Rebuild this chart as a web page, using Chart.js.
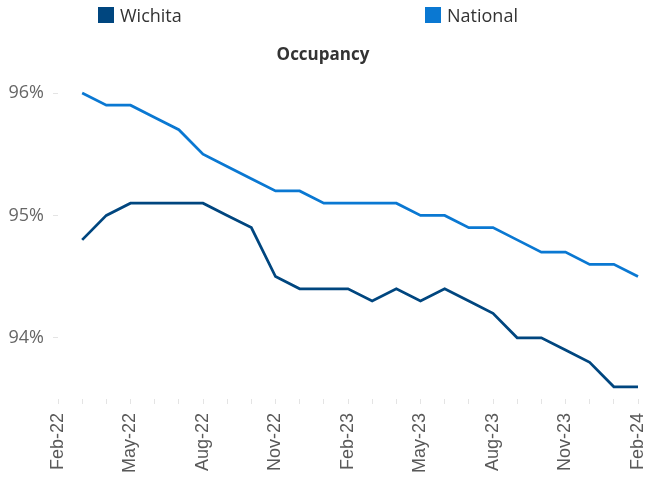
<!DOCTYPE html>
<html>
<head>
<meta charset="utf-8">
<script src="https://cdn.jsdelivr.net/npm/chart.js@4/dist/chart.umd.min.js"></script>
<style>
  html, body { margin: 0; padding: 0; background: #fff; }
  #wrap { position: relative; width: 646px; height: 478px; }
  #legend { position: absolute; top: 7px; left: 0; width: 646px; height: 18px;
    font-family: "Open Sans", sans-serif; font-size: 18px; color: #333; }
  .item { position: absolute; top: 0; line-height: 16px; white-space: nowrap; }
  .box { display: inline-block; width: 16px; height: 16px; vertical-align: top; margin-right: 6px; }
</style>
</head>
<body>
<div id="wrap">
  <canvas id="chart" width="646" height="478"></canvas>
  <div id="legend"></div>
</div>
<script>
const months = ['Feb-22', 'Mar-22', 'Apr-22', 'May-22', 'Jun-22', 'Jul-22', 'Aug-22', 'Sep-22', 'Oct-22',
  'Nov-22', 'Dec-22', 'Jan-23', 'Feb-23', 'Mar-23', 'Apr-23', 'May-23', 'Jun-23', 'Jul-23', 'Aug-23',
  'Sep-23', 'Oct-23', 'Nov-23', 'Dec-23', 'Jan-24', 'Feb-24']

// occupancy, percent
const wichita = [null, 94.8, 95.0, 95.1, 95.1, 95.1, 95.1, 95.0, 94.9, 94.5, 94.4, 94.4, 94.4,
  94.3, 94.4, 94.3, 94.4, 94.3, 94.2, 94.0, 94.0, 93.9, 93.8, 93.6, 93.6]
const national = [null, 96.0, 95.9, 95.9, 95.8, 95.7, 95.5, 95.4, 95.3, 95.2, 95.2, 95.1, 95.1,
  95.1, 95.1, 95.0, 95.0, 94.9, 94.9, 94.8, 94.7, 94.7, 94.6, 94.6, 94.5]

const yTicks = [94, 95, 96]

const datasets = [
  { label: 'Wichita', data: wichita, borderColor: '#00467f', legendLeft: 98 },
  { label: 'National', data: national, borderColor: '#0a78d2', legendLeft: 425 }
]

// legend sits in html so the two items can be placed like the original
const legendEl = document.getElementById('legend')
datasets.forEach(ds => {
  const item = document.createElement('div')
  item.className = 'item'
  item.style.left = ds.legendLeft + 'px'
  item.innerHTML = '<span class="box" style="background:' + ds.borderColor + '"></span>' + ds.label
  legendEl.appendChild(item)
})

new Chart(document.getElementById('chart'), {
  type: 'line',
  data: {
    labels: months,
    datasets: datasets.map(ds => ({
      label: ds.label,
      data: ds.data,
      borderColor: ds.borderColor,
      backgroundColor: ds.borderColor,
      borderWidth: 2.75,
      pointRadius: 0,
      tension: 0
    }))
  },
  options: {
    responsive: false,
    animation: false,
    layout: { padding: { left: 0, right: 0, top: 27, bottom: 0 } },
    plugins: {
      legend: { display: false },
      tooltip: { enabled: false },
      title: {
        display: true,
        text: 'Occupancy',
        color: '#333',
        font: { family: 'Open Sans', size: 17, weight: 'bold' },
        padding: { top: 18, bottom: -3 }
      }
    },
    scales: {
      x: {
        offset: false,
        border: { display: false },
        grid: { drawOnChartArea: false, drawTicks: true, tickLength: 5, color: '#e4e4e4' },
        ticks: {
          autoSkip: false,
          maxRotation: 90,
          minRotation: 90,
          padding: 9,
          color: '#595959',
          font: { family: 'Liberation Sans', size: 18 },
          callback: function (value, index) {
            return index % 3 === 0 ? this.getLabelForValue(value) : ''
          }
        },
        afterFit: s => {
          s.height = 79
          s.paddingLeft = 0
          s.paddingRight = 8
        }
      },
      y: {
        min: 93.5,
        max: 96.25,
        border: { display: false },
        grid: { drawOnChartArea: false, drawTicks: true, tickLength: 5, color: '#e4e4e4' },
        afterBuildTicks: axis => { axis.ticks = yTicks.map(v => ({ value: v })) },
        afterFit: s => { s.width = 58 },
        ticks: {
          padding: 9,
          color: '#666',
          font: { family: 'Open Sans', size: 18 },
          callback: v => v + '%'
        }
      }
    }
  }
})
</script>
</body>
</html>
